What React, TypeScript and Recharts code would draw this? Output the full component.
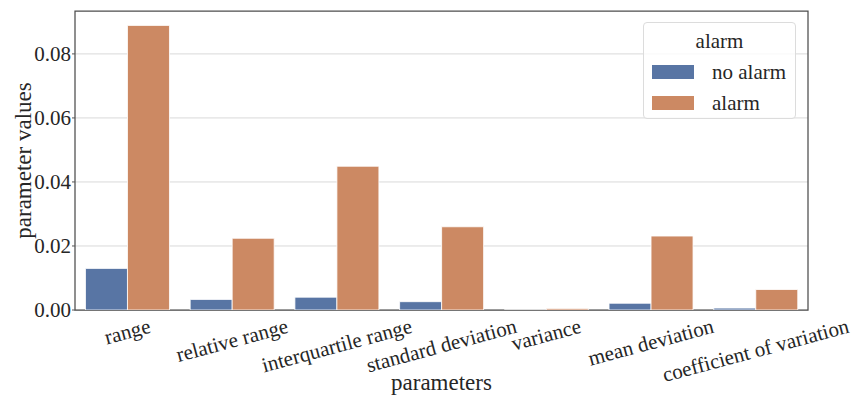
import {
  BarChart,
  Bar,
  XAxis,
  YAxis,
  CartesianGrid,
  Legend,
  ReferenceArea,
} from "recharts";

const categories = [
  "range",
  "relative range",
  "interquartile range",
  "standard deviation",
  "variance",
  "mean deviation",
  "coefficient of variation",
];
const noAlarm = [0.013, 0.0033, 0.004, 0.0026, 0.00002, 0.0021, 0.0006];
const alarm = [0.0889, 0.0224, 0.0449, 0.026, 0.0005, 0.0231, 0.0064];
const seriesNames = ["no alarm", "alarm"];
const yTicks = [0, 0.02, 0.04, 0.06, 0.08];
const yMax = 0.0934;

const FONT = "Liberation Serif";
const BLUE = "#5875a4";
const ORANGE = "#cc8963";

const data = categories.map((name, i) => ({
  name,
  noAlarm: noAlarm[i],
  alarm: alarm[i],
}));

let ctx: CanvasRenderingContext2D | null = null;
function textWidth(s: string, size: number) {
  if (!ctx) ctx = document.createElement("canvas").getContext("2d");
  if (!ctx) return s.length * size * 0.45;
  ctx.font = `${size}px 'Liberation Serif'`;
  return ctx.measureText(s).width;
}

// rotated tick, centred under the band with the box top at a fixed offset
function XTick({ x, y, payload }: any) {
  const size = 21;
  const rad = (15 * Math.PI) / 180;
  const w = textWidth(payload.value, size);
  const h = size * 0.95;
  const half = (w * Math.sin(rad) + h * Math.cos(rad)) / 2;
  const cy = y + 6 + half;
  return (
    <text
      x={x}
      y={cy}
      textAnchor="middle"
      dominantBaseline="central"
      transform={`rotate(-15, ${x}, ${cy})`}
      fontFamily={FONT}
      fontSize={size}
      fill="#262626"
    >
      {payload.value}
    </text>
  );
}

function LegendBox({ payload }: any) {
  const items = [...(payload || [])].sort(
    (a: any, b: any) => seriesNames.indexOf(a.value) - seriesNames.indexOf(b.value)
  );
  const txt = { fontFamily: FONT, fontSize: 21, color: "#262626", lineHeight: "24px" };
  return (
    <div
      style={{
        width: 151,
        height: 95,
        border: "1px solid #dcdcdc",
        borderRadius: 4,
        background: "rgba(255,255,255,0.8)",
        position: "relative",
      }}
    >
      <div style={{ ...txt, position: "absolute", top: 6, width: "100%", textAlign: "center" }}>
        alarm
      </div>
      {items.map((p: any, i: number) => (
        <div
          key={p.value}
          style={{
            position: "absolute",
            top: 37 + i * 31,
            left: 8,
            display: "flex",
            alignItems: "center",
          }}
        >
          <span
            style={{
              display: "inline-block",
              width: 42,
              height: 14,
              background: p.color,
              marginRight: 18,
            }}
          />
          <span style={txt}>{p.value}</span>
        </div>
      ))}
    </div>
  );
}

export default function App() {
  return (
    <div style={{ position: "absolute", left: 0, top: 0, background: "#fff" }}>
      <BarChart
        width={852}
        height={396}
        data={data}
        margin={{ top: 11, right: 44, bottom: 0, left: 0 }}
        barCategoryGap="10%"
        barGap={0}
      >
        <CartesianGrid
          vertical={false}
          stroke="#d9d9d9"
          strokeWidth={1}
          horizontalValues={yTicks}
        />
        <XAxis
          dataKey="name"
          interval={0}
          tickLine={false}
          axisLine={false}
          tickSize={0}
          tickMargin={0}
          height={86}
          tick={<XTick />}
          label={{
            value: "parameters",
            position: "insideBottom",
            offset: 6,
            style: { fontFamily: FONT, fontSize: 23, fill: "#262626" },
          }}
        />
        <YAxis
          width={75}
          domain={[0, yMax]}
          ticks={yTicks}
          allowDataOverflow
          tickFormatter={(v: number) => v.toFixed(2)}
          axisLine={false}
          tickLine={{ stroke: "#555" }}
          tickSize={3}
          tickMargin={1}
          tick={{ fontFamily: FONT, fontSize: 21, fill: "#262626" }}
          label={{
            value: "parameter values",
            angle: -90,
            position: "center",
            dx: -15,
            style: { fontFamily: FONT, fontSize: 23, fill: "#262626", textAnchor: "middle" },
          }}
        />
        <Bar
          dataKey="noAlarm"
          name={seriesNames[0]}
          fill={BLUE}
          stroke="#fff"
          strokeWidth={0.8}
          isAnimationActive={false}
        />
        <Bar
          dataKey="alarm"
          name={seriesNames[1]}
          fill={ORANGE}
          stroke="#fff"
          strokeWidth={0.8}
          isAnimationActive={false}
        />
        <ReferenceArea
          y1={0}
          y2={yMax}
          fill="none"
          stroke="#4d4d4d"
          strokeWidth={1.25}
          ifOverflow="visible"
        />
        <Legend
          layout="horizontal"
          verticalAlign="middle"
          align="center"
          content={<LegendBox />}
          wrapperStyle={{ position: "absolute", top: 22, left: 643, width: 153, height: 97 }}
        />
      </BarChart>
    </div>
  );
}
